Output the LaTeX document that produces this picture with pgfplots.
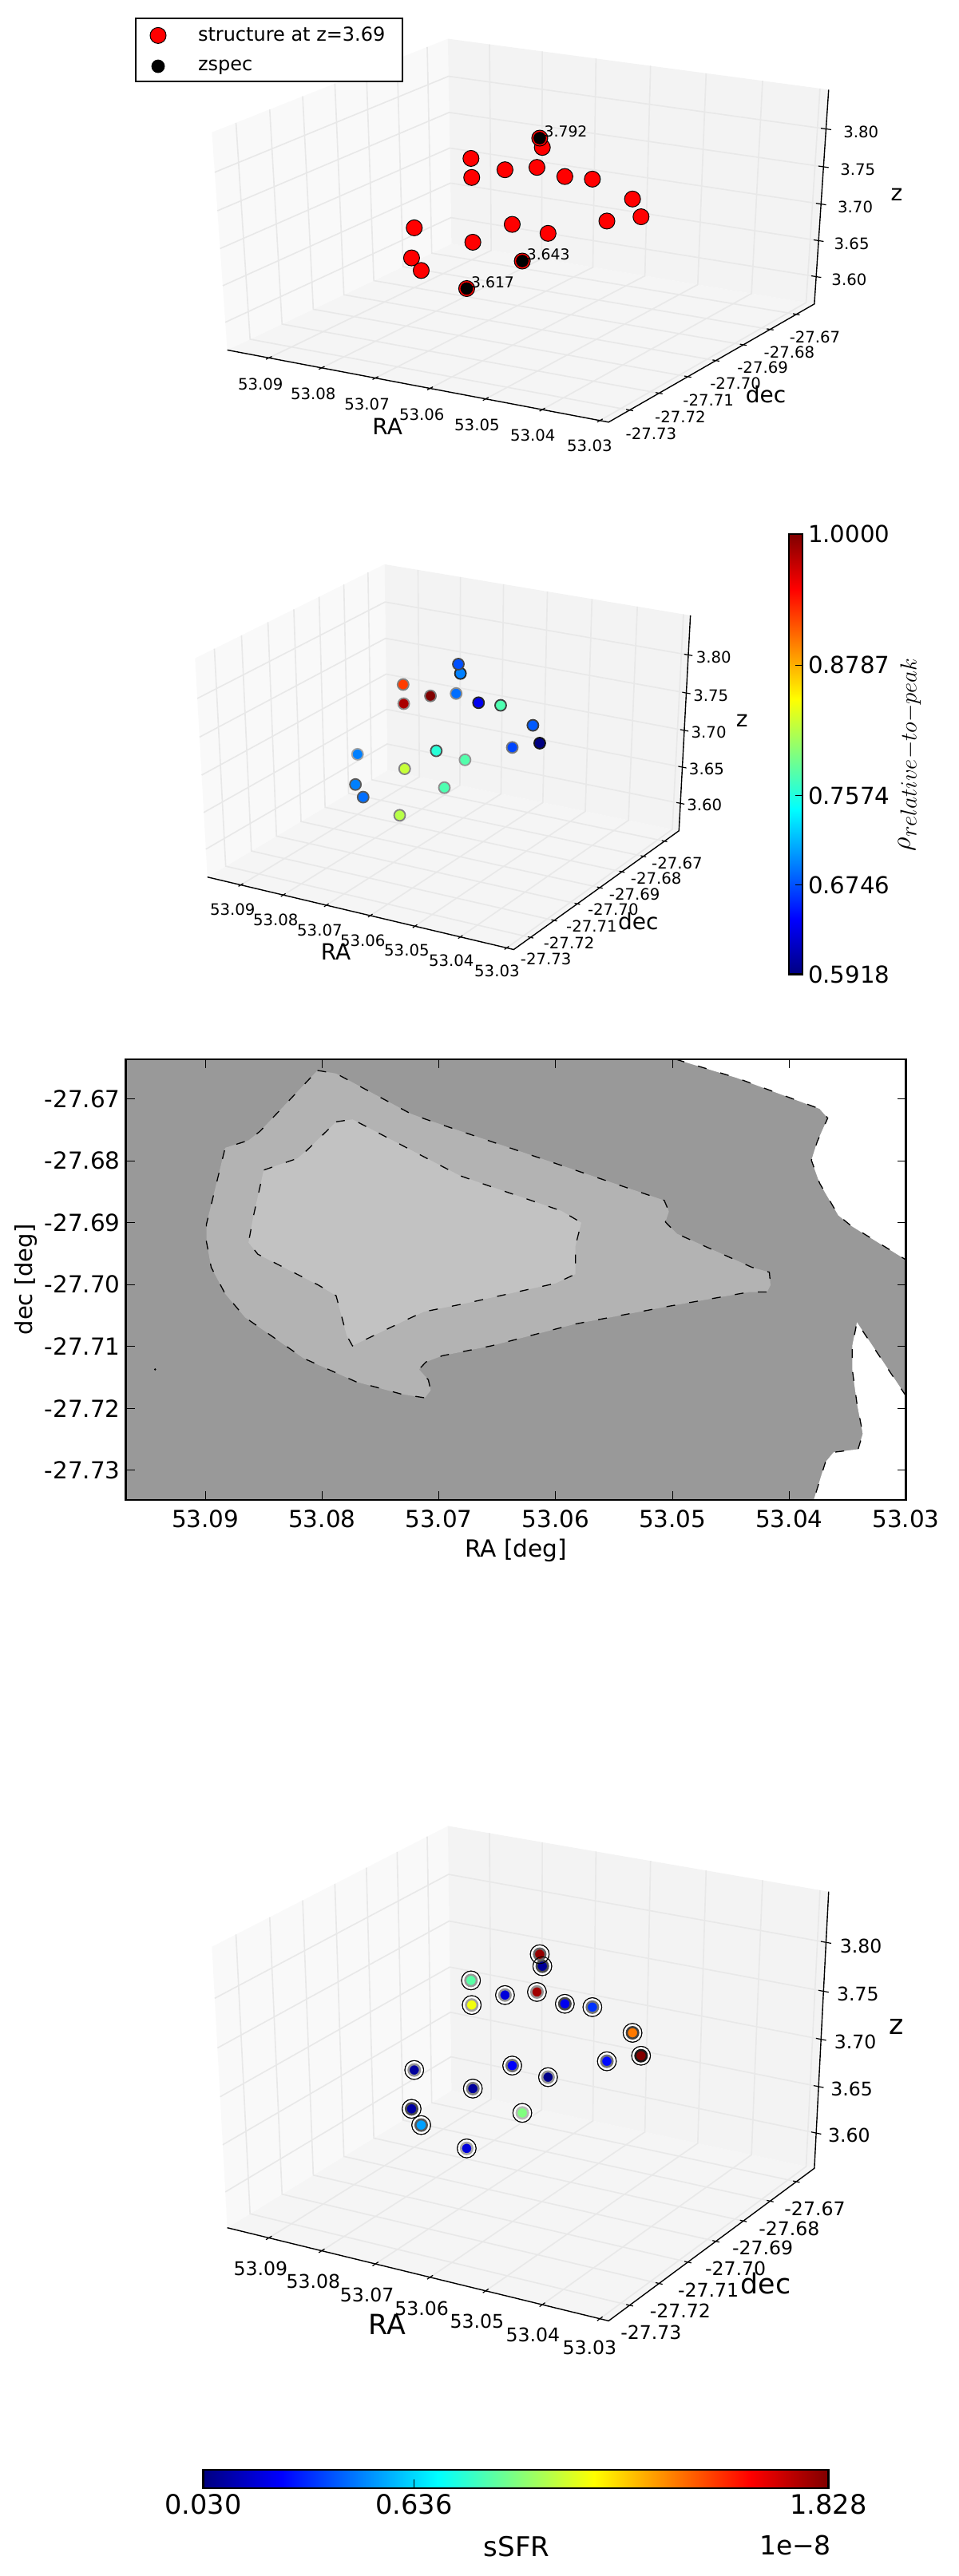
\documentclass[border=0pt]{standalone}
\usepackage{fontspec}
\setmainfont{DejaVu Sans}
\usepackage{pgfplots}
\usepackage{pgfplotstable}
\pgfplotsset{compat=1.18}

\definecolor{wallL}{RGB}{249,249,249}
\definecolor{wallB}{RGB}{243,243,243}
\definecolor{wallF}{RGB}{245,245,245}
\definecolor{gridc}{RGB}{232,232,232}
\definecolor{lev0}{RGB}{153,153,153}
\definecolor{lev1}{RGB}{179,179,179}
\definecolor{lev2}{RGB}{194,194,194}

\newcommand{\fs}[1]{\fontsize{#1}{#1}\selectfont}

% ra dec z, density relative to peak, sSFR in 1e-8, marker edge darkness of both colour panels
\pgfplotstableread{
ra dec z rho ssfr edge edgeb
53.0666 -27.6878 3.7786 0.694 0.07 85 70
53.0667 -27.6885 3.792 0.675 1.79 72 60
53.0764 -27.6939 3.7642 0.925 0.862 50 40
53.0758 -27.6948 3.7410 0.983 1.13 45 38
53.0709 -27.6925 3.7526 1.000 0.19 53 42
53.0659 -27.6909 3.7584 0.687 1.77 45 42
53.0632 -27.6864 3.7410 0.637 0.228 85 72
53.0599 -27.6831 3.7352 0.776 0.343 76 55
53.0577 -27.6729 3.6918 0.679 1.39 76 75
53.0556 -27.6738 3.6715 0.5918 1.828 92 90
53.0580 -27.6814 3.6773 0.671 0.27 53 55
53.0657 -27.6874 3.6628 0.778 0.05 42 42
53.0690 -27.6936 3.6831 0.761 0.25 69 55
53.0767 -27.6931 3.6484 0.824 0.08 50 50
53.0816 -27.7038 3.6831 0.694 0.08 37 42
53.0819 -27.7044 3.6426 0.694 0.09 65 70
53.0806 -27.7036 3.6252 0.687 0.537 65 65
53.0655 -27.6966 3.643 0.776 0.93 45 28
53.0708 -27.7058 3.617 0.818 0.19 50 35
}\members

\pgfplotstableread{
ra dec z lab
53.0667 -27.6885 3.792 3.792
53.0655 -27.6966 3.643 3.643
53.0708 -27.7058 3.617 3.617
}\zspec

% camera of the 3d panels: data -> frame coordinates
\pgfplotsset{
  /pgf/declare function={
    uu(\ra)=(53.098-\ra)/0.0695;
    vv(\de)=(\de+27.737)/0.074;
    ww(\zz)=(\zz-3.5615)/0.2895;
    dd(\ra,\de,\zz)=1-0.05855*uu(\ra)+0.08397*vv(\de)-0.0487*ww(\zz);
    projx(\ra,\de,\zz)=(689.1*uu(\ra)+492.4*vv(\de)+210-38.8*ww(\zz))/dd(\ra,\de,\zz);
    projy(\ra,\de,\zz)=(154.5*uu(\ra)-279.3*vv(\de)+1140-730*ww(\zz))/dd(\ra,\de,\zz);
  },
  /pgfplots/table/proj/.style={
    x expr={projx(\thisrow{ra},\thisrow{dec},\thisrow{z})},
    y expr={projy(\thisrow{ra},\thisrow{dec},\thisrow{z})},
  },
  panel/.style={
    scale only axis, hide axis, clip=false,
    xmin=0, xmax=1560, ymin=0, ymax=1560, y dir=reverse,
    anchor=north west,
  },
}

\newcommand{\seg}[3]{\addplot[forget plot,#1] table[proj,row sep=\\]{ra dec z\\#2\\#3\\};}
\newcommand{\bent}[4]{\addplot[forget plot,#1] table[proj,row sep=\\]{ra dec z\\#2\\#3\\#4\\};}
\newcommand{\pane}[5]{\addplot[forget plot,draw=none,fill=#1] table[proj,row sep=\\]{ra dec z\\#2\\#3\\#4\\#5\\};}

\newcommand{\drawbox}{%
  \pane{wallF}{53.098 -27.737 3.5615}{53.0285 -27.737 3.5615}{53.0285 -27.663 3.5615}{53.098 -27.663 3.5615}
  \pane{wallL}{53.098 -27.737 3.5615}{53.098 -27.663 3.5615}{53.098 -27.663 3.851}{53.098 -27.737 3.851}
  \pane{wallB}{53.098 -27.663 3.5615}{53.0285 -27.663 3.5615}{53.0285 -27.663 3.851}{53.098 -27.663 3.851}
  \pgfplotsinvokeforeach{53.03,53.04,53.05,53.06,53.07,53.08,53.09}{
    \bent{gridc,line width=0.8pt}{##1 -27.737 3.5615}{##1 -27.663 3.5615}{##1 -27.663 3.851}
    \seg{black,line width=0.6pt}{##1 -27.7379 3.5615}{##1 -27.7361 3.5615}
  }
  \pgfplotsinvokeforeach{-27.73,-27.72,-27.71,-27.70,-27.69,-27.68,-27.67}{
    \bent{gridc,line width=0.8pt}{53.0285 ##1 3.5615}{53.098 ##1 3.5615}{53.098 ##1 3.851}
    \seg{black,line width=0.6pt}{53.0279 ##1 3.5615}{53.0291 ##1 3.5615}
  }
  \pgfplotsinvokeforeach{3.60,3.65,3.70,3.75,3.80}{
    \bent{gridc,line width=0.8pt}{53.098 -27.737 ##1}{53.098 -27.663 ##1}{53.0285 -27.663 ##1}
    \seg{black,line width=0.6pt}{53.0276 -27.663 ##1}{53.0294 -27.663 ##1}
  }
  \addplot[forget plot,black,line width=0.7pt] table[proj,row sep=\\]{ra dec z\\53.098 -27.737 3.5615\\53.0285 -27.737 3.5615\\53.0285 -27.663 3.5615\\53.0285 -27.663 3.851\\};
}

\begin{document}
\begin{tikzpicture}
\path[use as bounding box] (0,0) rectangle (600pt,-1613.5pt);

% structure and spectroscopic redshifts
\begin{axis}[panel, at={(75pt,0pt)}, width=500pt, height=300pt,
    legend style={at={(0.019,0.9633)},anchor=north west,draw=black,line width=1pt,
      font=\fs{12},inner xsep=9pt,inner ysep=3.5pt,row sep=6pt,
      /tikz/every odd column/.append style={column sep=18pt}},
    legend cell align=left]
  \drawbox
  \addplot[only marks,mark=*,mark size=5pt,mark options={fill=red,draw=black,line width=0.5pt}]
    table[proj] {\members};
  \addlegendentry{structure at z=3.69}
  \addplot[only marks,mark=*,mark size=3.7pt,mark options={fill=black,draw=black},
    point meta=explicit symbolic,nodes near coords,
    nodes near coords style={anchor=center,xshift=16.3pt,yshift=4pt,font=\fs{9.4},text=black}]
    table[proj,meta=lab] {\zspec};
  \addlegendentry{zspec}
\end{axis}

% relative density
\begin{axis}[panel, at={(75.8pt,-329.05pt)}, width=401.6pt, height=301.45pt,
    colormap/jet, point meta min=0.5918, point meta max=1,
    colorbar,
    colorbar style={at={(1.0414,0.9819)},anchor=north west,
      width=8.5pt,height=275.8pt,scale only axis,
      ytick={0.5918,0.6746,0.7574,0.8787,1},
      yticklabels={0.5918,0.6746,0.7574,0.8787,1.0000},
      yticklabel style={font=\fs{14.6}},
      ytick pos=right,yticklabel pos=right,
      tick align=inside,major tick length=4.5pt,tick style={black,line width=0.4pt},
      axis line style={line width=1.3pt}}]
  \drawbox
  \addplot[forget plot,scatter,only marks,mark=*,mark size=3.5pt,
    scatter src=explicit,
    visualization depends on={\thisrow{edge}\as\edgeval},
    scatter/use mapped color={draw=black!\edgeval,fill=mapped color},
    mark options={line width=0.9pt}]
    table[proj,meta=rho] {\members};
\end{axis}

% sky map
\begin{axis}[at={(78.85pt,-663.5pt)},anchor=north west,scale only axis,
    width=488.45pt,height=276pt,
    x dir=reverse,xmin=53.03,xmax=53.0968,ymin=-27.7348,ymax=-27.6636,
    scaled ticks=false,axis on top,
    axis line style={line width=1.4pt},
    xtick={53.03,53.04,53.05,53.06,53.07,53.08,53.09},
    xticklabels={53.03,53.04,53.05,53.06,53.07,53.08,53.09},
    ytick={-27.73,-27.72,-27.71,-27.70,-27.69,-27.68,-27.67},
    yticklabels={-27.73,-27.72,-27.71,-27.70,-27.69,-27.68,-27.67},
    ticklabel style={font=\fs{14.7}},
    xticklabel shift=3pt,
    tick align=inside,major tick length=5.5pt,tick style={black,line width=0.5pt},
    xlabel={RA [deg]},ylabel={dec [deg]},
    xlabel style={font=\fs{14.8}},ylabel style={font=\fs{14.5},xshift=0pt},
    ylabel shift=-2pt]
  \addplot[draw=none,fill=lev0] coordinates {(53.03,-27.7348) (53.0968,-27.7348) (53.0968,-27.6636) (53.03,-27.6636)};
  \addplot[fill=white,draw=black,line width=0.65pt,dash pattern=on 5.5pt off 9pt] coordinates {
    (53.0497,-27.6636) (53.0445,-27.6666) (53.0374,-27.6716) (53.0367,-27.6731)
    (53.0376,-27.6769) (53.0381,-27.6799) (53.0374,-27.6836) (53.0358,-27.6888)
    (53.0347,-27.6905) (53.03,-27.6960) (53.03,-27.6636)};
  \addplot[fill=white,draw=black,line width=0.65pt,dash pattern=on 5.5pt off 9pt] coordinates {
    (53.03,-27.7180) (53.0342,-27.7061) (53.0346,-27.7099) (53.0346,-27.7137)
    (53.0342,-27.7192) (53.0337,-27.7241) (53.0341,-27.7266) (53.0362,-27.7271)
    (53.0369,-27.7287) (53.0379,-27.7348) (53.03,-27.7348)};
  \addplot[fill=lev1,draw=black,line width=0.65pt,dash pattern=on 5.5pt off 9pt] coordinates {
    (53.0804,-27.6654) (53.0788,-27.6659) (53.0724,-27.6724) (53.0711,-27.6733)
    (53.0507,-27.6864) (53.0503,-27.6882) (53.0506,-27.6899) (53.0496,-27.6918)
    (53.0432,-27.6972) (53.0417,-27.6980) (53.0416,-27.7001) (53.0419,-27.7012)
    (53.0434,-27.7012) (53.0503,-27.7035) (53.0584,-27.7064) (53.0655,-27.7099)
    (53.0697,-27.7115) (53.0711,-27.7125) (53.0717,-27.7137) (53.0709,-27.7154)
    (53.0707,-27.7171) (53.0712,-27.7183) (53.0732,-27.7177) (53.0771,-27.7157)
    (53.0816,-27.7119) (53.0866,-27.7053) (53.0883,-27.7015) (53.0895,-27.6972)
    (53.0899,-27.6931) (53.0899,-27.6902) (53.0883,-27.6779) (53.0863,-27.6767)
    (53.0853,-27.6752) (53.0804,-27.6654)};
  \addplot[fill=lev2,draw=black,line width=0.65pt,dash pattern=on 5.5pt off 9pt] coordinates {
    (53.0788,-27.6737) (53.0774,-27.6733) (53.0682,-27.6824) (53.0661,-27.6838)
    (53.0595,-27.6881) (53.0578,-27.6900) (53.0583,-27.6937) (53.0583,-27.6983)
    (53.0600,-27.6998) (53.0676,-27.7030) (53.0713,-27.7044) (53.0729,-27.7058)
    (53.0774,-27.7099) (53.0779,-27.7082) (53.0788,-27.7018) (53.0803,-27.7001)
    (53.0855,-27.6951) (53.0863,-27.6932) (53.0859,-27.6891) (53.0850,-27.6815)
    (53.0821,-27.6796) (53.0813,-27.6783) (53.0788,-27.6737)};
  \addplot[only marks,mark=*,mark size=0.4pt,black] coordinates {(53.0943,-27.7137)};
\end{axis}

% specific star formation rate
\begin{axis}[panel, at={(75pt,-1112.35pt)}, width=500pt, height=387.25pt,
    colormap/jet, point meta min=0.03, point meta max=1.828,
    colorbar horizontal,
    colorbar style={at={(0.1045,-0.1224)},anchor=north west,
      width=391.5pt,height=11.5pt,scale only axis,
      xtick={0.03,0.636,1.828},xticklabels={0.030,0.636,1.828},
      xticklabel style={font=\fs{16.8}},
      xtick pos=bottom,xticklabel pos=bottom,
      tick align=inside,major tick length=5.5pt,tick style={black,line width=0.4pt},
      axis line style={line width=1.3pt}}]
  \drawbox
  \addplot[forget plot,only marks,mark=*,mark size=5.9pt,mark options={fill=white,draw=none}]
    table[proj] {\members};
  \addplot[forget plot,scatter,only marks,mark=*,mark size=3.6pt,
    scatter src=explicit,
    visualization depends on={\thisrow{edgeb}\as\edgeval},
    scatter/use mapped color={draw=black!\edgeval,fill=mapped color},
    mark options={line width=1.3pt}]
    table[proj,meta=ssfr] {\members};
  \addplot[forget plot,only marks,mark=o,mark size=5.9pt,mark options={draw=black,line width=0.5pt}]
    table[proj] {\members};
\end{axis}

% tick labels and axis names of the 3d panels, in image pixels
\begin{scope}[x=0.5pt,y=-0.5pt]
  \foreach \px/\py/\lab in {326.3/481.5/53.09,392.3/493.8/53.08,459.6/506.1/53.07,528.2/519.2/53.06,597.4/532.7/53.05,667.3/545/53.04,738.4/558.4/53.03,
      1020.5/421.9/-27.67,988.4/441.1/-27.68,955.1/460.4/-27.69,921.1/480/-27.70,887.2/501.1/-27.71,851.9/521.9/-27.72,815.4/543/-27.73,
      1063.4/350.8/3.60,1066.6/305.8/3.65,1071.1/259.6/3.70,1074.3/212.7/3.75,1078.2/165.4/3.80,
      291.3/1139.7/53.09,345.2/1152/53.08,400.4/1165.1/53.07,454.2/1178.3/53.06,509.4/1190.6/53.05,565.2/1203.3/53.04,622.4/1216.8/53.03,
      847.9/1081/-27.67,821.7/1100.3/-27.68,794.7/1120/-27.69,767.8/1139.7/-27.70,740.9/1160.2/-27.71,712.6/1180.7/-27.72,683.7/1201.2/-27.73,
      882.2/1008.4/3.60,884.9/963.7/3.65,887.6/917.7/3.70,890.3/871/3.75,893.7/823.8/3.80}
    \node[font=\fs{9.85}] at (\px,\py) {\lab};
  \foreach \px/\py/\lab in {326.3/2842.3/53.09,392.3/2858/53.08,459.6/2874.6/53.07,528.2/2891.6/53.06,597.4/2908.2/53.05,667.3/2924.4/53.04,738.4/2941/53.03,
      1020.5/2766.9/-27.67,988.4/2791.6/-27.68,955.1/2816.3/-27.69,921.1/2842.3/-27.70,887.2/2868.3/-27.71,851.9/2894.8/-27.72,815.4/2921.7/-27.73,
      1063.4/2674.9/3.60,1066.6/2617/3.65,1071.1/2558.3/3.70,1074.3/2498.1/3.75,1078.2/2437.6/3.80}
    \node[font=\fs{11.8}] at (\px,\py) {\lab};
  \foreach \px/\py/\lab in {485.2/534.6/RA,959/494.2/dec,1123/244.2/z,420.5/1192.6/RA,799.4/1153.6/dec,929.3/902.6/z}
    \node[font=\fs{14}] at (\px,\py) {\lab};
  \foreach \px/\py/\lab in {485.2/2911.8/RA,959/2860.2/dec,1123/2539.4/z}
    \node[font=\fs{17.4}] at (\px,\py) {\lab};
  \node[rotate=90,font=\fs{19}] at (1139,945) {$\rho_{relative-to-peak}$};
  \node[font=\fs{17}] at (647,3190) {sSFR};
  \node[font=\fs{16.5}] at (996,3188) {1e−8};
\end{scope}
\end{tikzpicture}
\end{document}
